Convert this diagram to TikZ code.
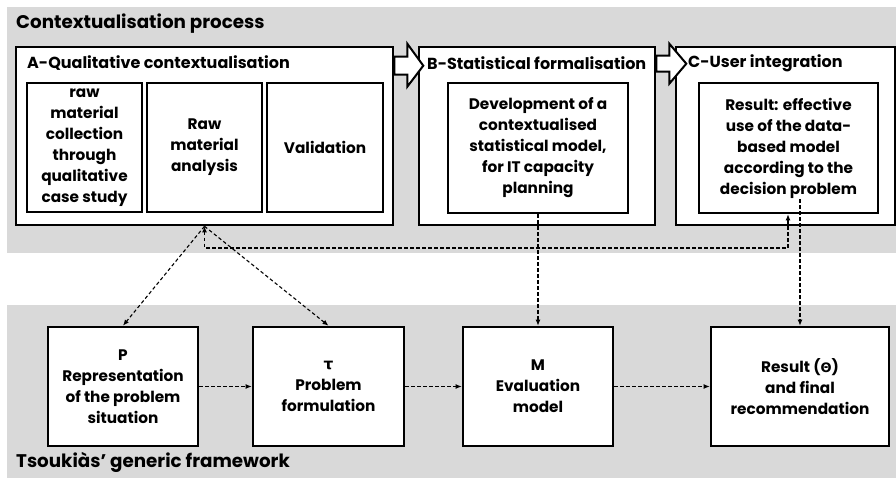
\documentclass[tikz,border=0pt]{standalone}
\usepackage{fontspec}
\setmainfont{Poppins}
\newfontfamily\grk{DejaVu Sans}
\usetikzlibrary{calc,arrows.meta}
\definecolor{band}{HTML}{D9D9D9}
\tikzset{
  bandrect/.style={fill=band,draw=none},
  outerbox/.style={draw=black,line width=2.6pt,fill=white,minimum height=178pt,inner sep=0pt},
  innerbox/.style={draw=black,line width=2.6pt,fill=white,align=center,inner sep=2pt,
     font=\fontsize{15.3}{21}\selectfont\bfseries},
  botbox/.style={draw=black,line width=2.6pt,fill=white,align=center,minimum height=119pt,inner sep=2pt,
     font=\fontsize{15.3}{21}\selectfont\bfseries},
  boxtitle/.style={anchor=west,inner sep=0pt,font=\fontsize{16}{18}\selectfont\bfseries},
  bandtitle/.style={anchor=west,inner sep=0pt,font=\fontsize{18.3}{20}\selectfont\bfseries},
  dlink/.style={draw=black,line width=1.1pt,dash pattern=on 3.5pt off 2.5pt,-{Latex[length=6pt,width=5pt]}},
  hollow/.style={draw=black,line width=2pt,fill=white,line join=miter},
}
\begin{document}
\begin{tikzpicture}[x=1pt,y=-1pt]
\useasboundingbox (0,0) rectangle (896,478);
\fill[white] (0,0) rectangle (896,478);
% bands
\path[bandrect] (7,7) rectangle (896,253);
\path[bandrect] (7,305) rectangle (896,478);
\node[bandtitle] (t1) at (16,24) {Contextualisation process};
\node[bandtitle] (t2) at (16,462) {Tsoukiàs' generic framework};
% outer boxes
\node[outerbox,minimum width=377pt] (A) at (204.5,136) {};
\node[outerbox,minimum width=236pt] (B) at (537,136) {};
\node[outerbox,minimum width=219pt] (C) at (785.5,136) {};
\node[boxtitle] (At) at (27,63) {A-Qualitative contextualisation};
\node[boxtitle] (Bt) at (427,63) {B-Statistical formalisation};
\node[boxtitle] (Ct) at (688,63) {C-User integration};
% inner boxes
\node[innerbox,minimum width=115pt,minimum height=129pt] (A1) at (84.5,147.5) {raw\\material\\collection\\through\\qualitative\\case study};
\node[innerbox,minimum width=115pt,minimum height=129pt] (A2) at (204.5,147.5) {Raw\\material\\analysis};
\node[innerbox,minimum width=116pt,minimum height=129pt] (A3) at (325,147.5) {Validation};
\node[innerbox,minimum width=180pt,minimum height=130pt] (Bin) at (538,148) {Development of a\\contextualised\\statistical model,\\for IT capacity\\planning};
\node[innerbox,minimum width=179pt,minimum height=130pt] (Cin) at (788.5,148) {Result: effective\\use of the data-\\based model\\according to the\\decision problem};
% hollow arrows
\draw[hollow] ($(A.north east)+(0,11)$) -- ++(13,0) -- ++(0,-13) -- ++(16,22) -- ++(-16,21) -- ++(0,-12) -- ++(-13,0) -- cycle;
\draw[hollow] ($(B.north east)+(0,10)$) -- ++(13,0) -- ++(0,-12) -- ++(17,20) -- ++(-17,20) -- ++(0,-12) -- ++(-13,0) -- cycle;
% bottom boxes
\node[botbox,minimum width=150pt] (P) at (123,386.5) {P\\Representation\\of the problem\\situation};
\node[botbox,minimum width=151pt] (T) at (328.5,386.5) {{\grk τ}\\Problem\\formulation};
\node[botbox,minimum width=150pt] (M) at (538,386.5) {M\\Evaluation\\model};
\node[botbox,minimum width=178pt] (R) at (800,386.5) {Result ({\grk\fontsize{13}{21}\selectfont Θ})\\and final\\recommendation};
% connectors
\coordinate (fb) at (788,248);
\draw[dlink,{Latex[length=6pt,width=5pt]}-{Latex[length=6pt,width=5pt]}] (A.south) |- (fb) -- (fb |- Cin.south);
\draw[dlink] (A.south) -- (P.north);
\draw[dlink] (A.south) -- (T.north);
\draw[dlink] (Bin.south) -- (M.north);
\draw[dlink] ([yshift=15pt]Cin.south -| R.north) -- (R.north);
\draw[dlink] (P.east) -- (T.west);
\draw[dlink] (T.east) -- (M.west);
\draw[dlink] (M.east) -- (R.west);
\end{tikzpicture}
\end{document}
